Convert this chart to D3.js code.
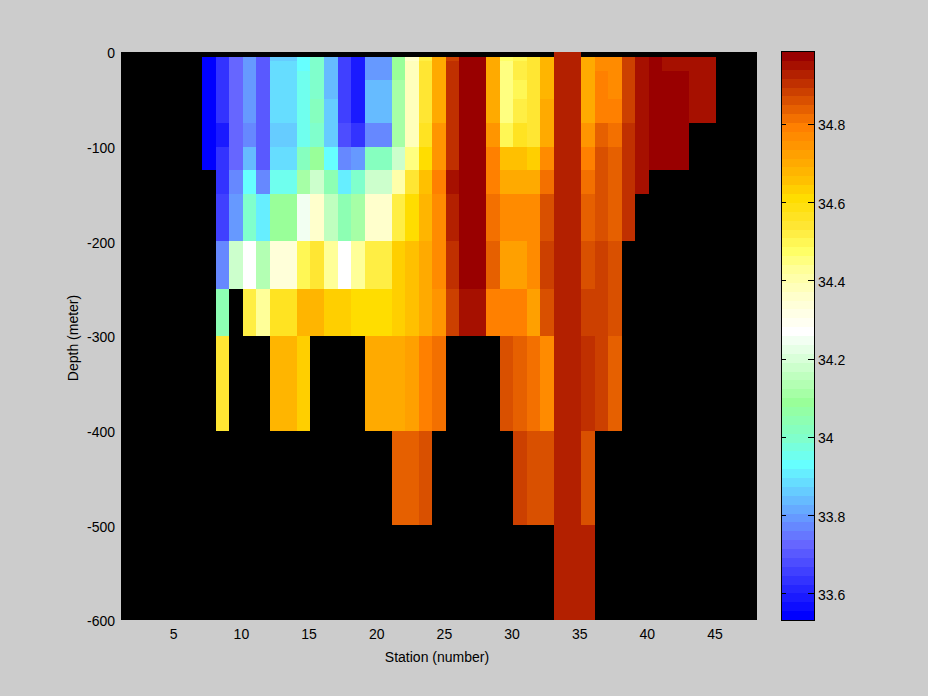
<!DOCTYPE html>
<html><head><meta charset="utf-8">
<script src="https://cdn.jsdelivr.net/npm/d3@7"></script>
<style>
html,body{margin:0;padding:0;background:#ccc;}
svg{display:block;}
text{font-family:"Liberation Sans",Arial,sans-serif;font-size:14px;fill:#000;}
</style></head><body>
<svg id="c" width="928" height="696"></svg>
<script>
const N = null;
const stations = [7,8,9,10,11,12,13,14,15,16,17,18,19,20,21,22,23,24,25,26,27,28,29,30,31,32,33,34,35,36,37,38,39,40,41,42,43,44];
const depthEdges = [0,-5,-10,-20,-30,-50,-75,-100,-125,-150,-200,-250,-300,-400,-500,-600];
const row00 = [N,N,N,N,N,N,N,N,N,N,N,N,N,N,N,N,N,N,N,N,N,N,N,N,N,N,34.93,34.93,N,N,N,N,N,N,N,N,N,N];
const row05 = [33.54,33.63,33.72,33.80,33.70,33.85,33.85,33.93,33.99,33.83,33.66,33.59,33.80,33.80,34.09,34.36,34.52,34.70,34.885,34.975,34.975,34.69,34.48,34.50,34.54,34.67,34.93,34.93,34.70,34.76,34.76,34.885,34.94,34.975,34.95,34.95,34.95,34.95];
const row10 = [33.54,33.63,33.72,33.80,33.70,33.88,33.88,33.93,33.99,33.83,33.66,33.59,33.80,33.80,34.09,34.38,34.54,34.70,34.91,34.975,34.975,34.70,34.46,34.52,34.54,34.67,34.93,34.93,34.70,34.76,34.76,34.885,34.95,34.975,34.95,34.95,34.95,34.95];
const row20 = [33.54,33.63,33.72,33.80,33.70,33.88,33.88,33.95,33.99,33.83,33.66,33.59,33.80,33.80,34.09,34.38,34.54,34.70,34.91,34.975,34.975,34.70,34.46,34.52,34.54,34.67,34.93,34.93,34.70,34.79,34.76,34.885,34.95,34.975,34.975,34.975,34.95,34.95];
const row30 = [33.54,33.63,33.72,33.80,33.70,33.88,33.88,33.95,33.99,33.83,33.66,33.59,33.83,33.83,34.10,34.38,34.54,34.70,34.91,34.975,34.975,34.70,34.46,34.50,34.54,34.67,34.93,34.93,34.70,34.79,34.76,34.885,34.95,34.975,34.975,34.975,34.95,34.95];
const row50 = [33.54,33.63,33.72,33.80,33.70,33.88,33.88,33.95,34.03,33.85,33.66,33.59,33.83,33.83,34.10,34.38,34.54,34.70,34.91,34.975,34.975,34.70,34.46,34.53,34.54,34.69,34.93,34.93,34.70,34.79,34.79,34.885,34.95,34.975,34.975,34.975,34.95,34.95];
const row75 = [33.54,33.59,33.72,33.77,33.70,33.85,33.85,33.96,33.99,33.85,33.68,33.63,33.78,33.78,34.12,34.38,34.57,34.74,34.91,34.975,34.975,34.74,34.50,34.57,34.54,34.69,34.93,34.93,34.74,34.84,34.82,34.91,34.95,34.975,34.975,34.975,N,N];
const row100 = [33.54,33.63,33.72,33.83,33.70,33.88,33.88,34.03,34.09,33.93,33.76,33.80,34.01,34.01,34.18,34.46,34.61,34.74,34.91,34.975,34.975,34.78,34.645,34.645,34.63,34.76,34.93,34.93,34.79,34.86,34.84,34.91,34.95,34.975,34.975,34.975,N,N];
const row125 = [N,33.63,33.76,33.93,33.77,33.96,33.96,34.11,34.18,34.04,33.91,34.00,34.18,34.18,34.40,34.54,34.645,34.78,34.94,34.975,34.975,34.78,34.70,34.70,34.70,34.82,34.93,34.93,34.82,34.86,34.84,34.91,34.95,N,N,N,N,N];
const row150 = [N,33.66,33.80,34.00,33.91,34.09,34.09,34.24,34.35,34.15,34.05,34.12,34.37,34.37,34.52,34.61,34.67,34.77,34.93,34.975,34.975,34.82,34.76,34.76,34.76,34.86,34.93,34.93,34.84,34.86,34.84,34.91,N,N,N,N,N,N];
const row200 = [N,33.77,34.18,34.26,34.14,34.33,34.33,34.50,34.54,34.42,34.28,34.42,34.52,34.52,34.63,34.66,34.69,34.77,34.91,34.975,34.975,34.84,34.73,34.73,34.76,34.885,34.93,34.93,34.86,34.885,34.86,N,N,N,N,N,N,N];
const row250 = [N,34.04,N,34.52,34.43,34.57,34.57,34.67,34.67,34.63,34.63,34.60,34.60,34.60,34.63,34.645,34.70,34.75,34.885,34.95,34.95,34.79,34.79,34.79,34.73,34.86,34.93,34.93,34.885,34.885,34.86,N,N,N,N,N,N,N];
const row300 = [N,34.54,N,N,N,34.68,34.68,34.63,N,N,N,N,34.70,34.70,34.70,34.73,34.79,34.82,N,N,N,N,34.86,34.84,34.82,34.77,34.93,34.93,34.91,34.885,34.84,N,N,N,N,N,N,N];
const row400 = [N,N,N,N,N,N,N,N,N,N,N,N,N,N,34.84,34.84,34.86,N,N,N,N,N,N,34.885,34.86,34.86,34.93,34.93,34.86,N,N,N,N,N,N,N,N,N];
const row500 = [N,N,N,N,N,N,N,N,N,N,N,N,N,N,N,N,N,N,N,N,N,N,N,N,N,N,34.93,34.93,34.93,N,N,N,N,N,N,N,N,N];
const rows = [row00,row05,row10,row20,row30,row50,row75,row100,row125,row150,row200,row250,row300,row400,row500];

const xTicks = [5,10,15,20,25,30,35,40,45];
const yTicks = [0,-100,-200,-300,-400,-500,-600];
const cTicks = [33.6,33.8,34,34.2,34.4,34.6,34.8];
const xTitle = "Station (number)";
const yTitle = "Depth (meter)";
const levelAnchors = [0,4,8,11,14,17,20,24,28,32,36,39,41,44,47,49,51,53,55,57,59,61,63];
const anchorColors = ["#0000ff","#3333ff","#6666ff","#6699ff","#66ccff","#66ffff","#80ffcc","#99ff99","#ccffcc","#ffffff","#ffffcc","#ffff99","#ffff66","#ffe633","#ffdd00","#ffc000","#ffaa00","#ff9500","#ff8000","#e66000","#cc4000","#b32000","#990000"];
const cRange = [33.532,34.984];
const stationOffset = 0.14;

const levelColor = d3.scaleLinear().domain(levelAnchors).range(anchorColors).interpolate(d3.interpolateRgb);
const palette = d3.range(64).map(i => levelColor(i));
const color = d3.scaleQuantize().domain(cRange).range(palette);

const svg = d3.select("#c");
svg.append("rect").attr("width",928).attr("height",696).attr("fill","#cccccc");

const x = d3.scaleLinear().domain([1.14,48.14]).range([121,757]);
const y = d3.scaleLinear().domain([0,-600]).range([52,620]);
const cy = d3.scaleLinear().domain(cRange).range([620,52]);

svg.append("rect").attr("x",121).attr("y",52).attr("width",636).attr("height",568).attr("fill","#000");

const cells = [];
rows.forEach((r,ri) => r.forEach((v,ci) => { if (v !== null) cells.push({v, st:stations[ci], d0:depthEdges[ri], d1:depthEdges[ri+1]}); }));
svg.append("g").attr("shape-rendering","crispEdges").selectAll("rect").data(cells).join("rect")
  .attr("x",d=>x(d.st+stationOffset))
  .attr("width",d=>x(d.st+1+stationOffset)-x(d.st+stationOffset))
  .attr("y",d=>y(d.d0))
  .attr("height",d=>y(d.d1)-y(d.d0))
  .attr("fill",d=>color(d.v));

const gx = svg.append("g").attr("transform","translate(0,620)")
  .call(d3.axisBottom(x).tickValues(xTicks).tickFormat(d3.format("d")).tickSize(0).tickPadding(9));
gx.select(".domain").remove();
const gy = svg.append("g").attr("transform","translate(121,0)")
  .call(d3.axisLeft(y).tickValues(yTicks).tickFormat(d=>String(d).replace("\u2212","-")).tickSize(0).tickPadding(6));
gy.select(".domain").remove();
svg.selectAll(".tick text").attr("font-family",null).attr("font-size",null).style("font-size","14px").style("fill","#000");
gy.selectAll(".tick text").attr("dy","0.42em");

svg.append("text").attr("x",437).attr("y",662).attr("text-anchor","middle").text(xTitle);
svg.append("text").attr("transform","translate(78,338) rotate(-90)").attr("text-anchor","middle").text(yTitle);

// colour bar
const barL = 781, barR = 814;
const levelH = (cRange[1]-cRange[0])/palette.length;
svg.append("g").attr("shape-rendering","crispEdges").selectAll("rect").data(palette).join("rect")
  .attr("x",barL).attr("width",barR-barL)
  .attr("y",(d,i)=>cy(cRange[0]+(i+1)*levelH))
  .attr("height",(d,i)=>cy(cRange[0]+i*levelH)-cy(cRange[0]+(i+1)*levelH))
  .attr("fill",d=>d);
const gc = svg.append("g").attr("transform",`translate(${barR},0)`)
  .call(d3.axisRight(cy).tickValues(cTicks).tickFormat(d=>String(d)).tickSize(0).tickPadding(4));
gc.select(".domain").remove();
gc.selectAll(".tick text").attr("font-family",null).attr("font-size",null).style("font-size","14px").style("fill","#000").attr("dy","0.42em");
const gl = svg.append("g").attr("shape-rendering","crispEdges").attr("stroke","#000");
gl.selectAll("line.l").data(cTicks).join("line").attr("class","l").attr("x1",barL).attr("x2",barL+5).attr("y1",d=>Math.round(cy(d))+.5).attr("y2",d=>Math.round(cy(d))+.5);
gl.selectAll("line.r").data(cTicks).join("line").attr("class","r").attr("x1",barR-6).attr("x2",barR).attr("y1",d=>Math.round(cy(d))+.5).attr("y2",d=>Math.round(cy(d))+.5);
svg.append("rect").attr("x",barL+.5).attr("y",51.5).attr("width",barR-barL).attr("height",568.5).attr("fill","none").attr("stroke","#000").attr("shape-rendering","crispEdges");
</script>
</body></html>
